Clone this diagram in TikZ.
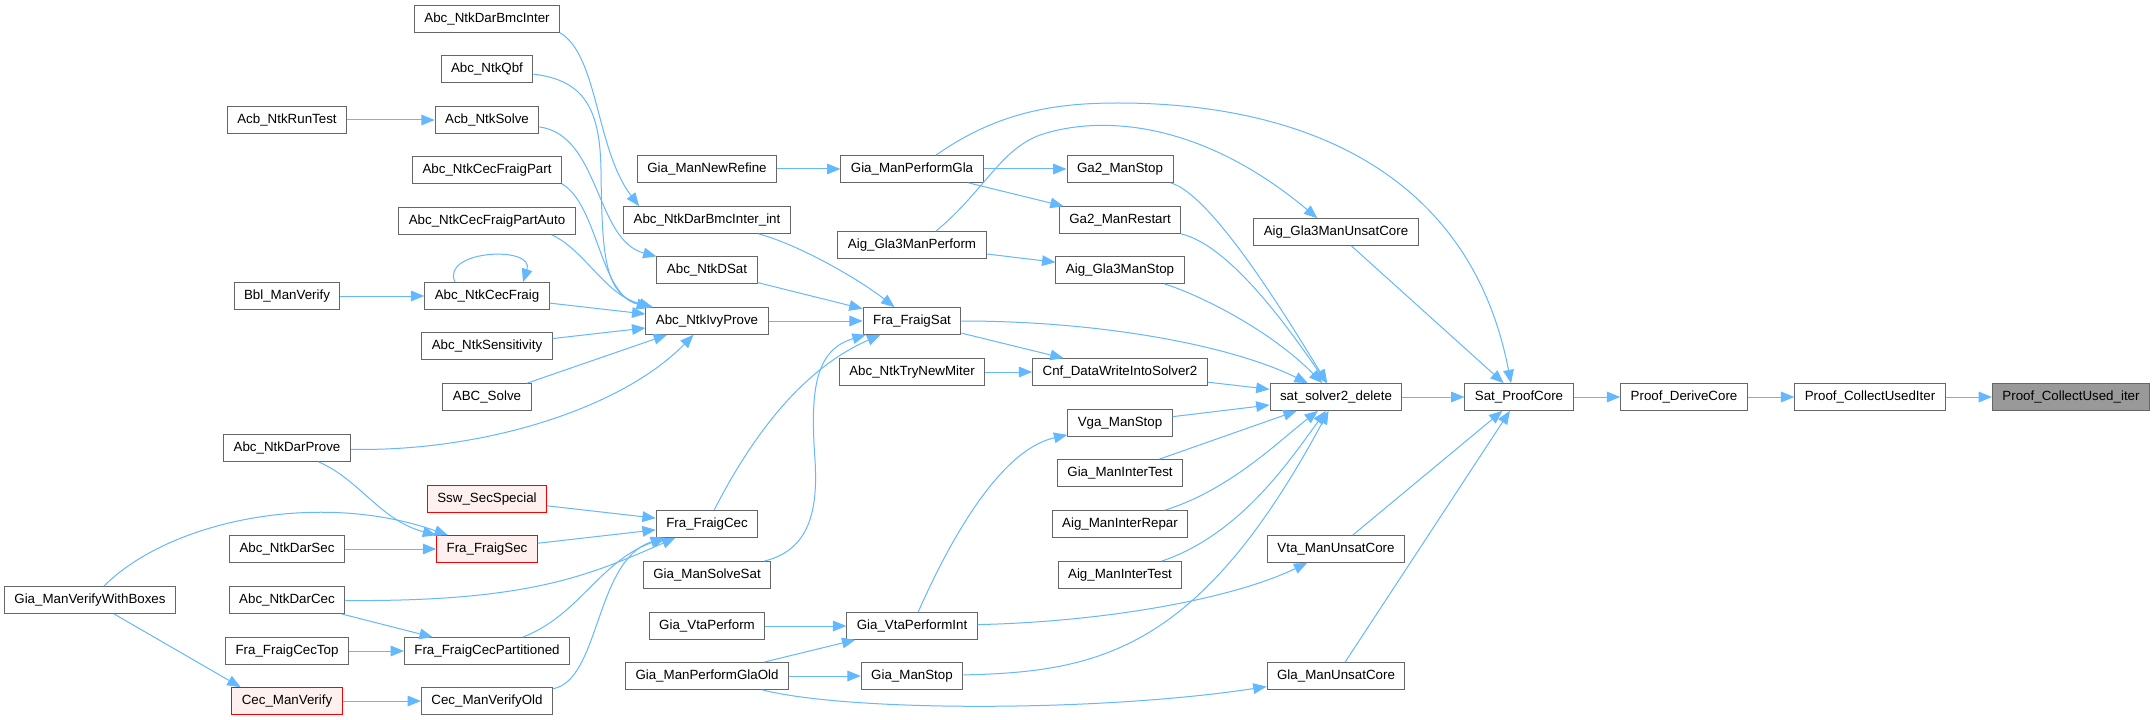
\documentclass[tikz,border=0pt]{standalone}
\usepackage{fontspec}
\setmainfont{Liberation Sans}
\usetikzlibrary{arrows.meta}
\definecolor{edgeblue}{HTML}{63B8FF}
\definecolor{boxgray}{HTML}{666666}
\definecolor{focusgray}{HTML}{999999}
\definecolor{redfill}{HTML}{FFF0F0}
\tikzset{
	fn/.style={draw=boxgray, fill=white, line width=0.75pt, inner xsep=7.5pt, inner ysep=0pt, minimum height=20pt, font=\fontsize{10}{12}\selectfont},
	fnred/.style={fn, draw=red, fill=redfill},
	fnfocus/.style={fn, fill=focusgray},
	call/.style={edgeblue, line width=0.75pt, -{Triangle[length=10pt,width=8pt]}},
}
\begin{document}
\begin{tikzpicture}[x=0.75pt, y=-0.75pt]
				\fill[white] (0,0) rectangle (2154,720);
				\useasboundingbox (0,0) rectangle (2154,720);
				\node[fn] (vwb) at (90,600) {Gia\_ManVerifyWithBoxes};
				\node[fn] (acbrt) at (287,120) {Acb\_NtkRunTest};
				\node[fn] (bbl) at (287,296) {Bbl\_ManVerify};
				\node[fn] (darp) at (287,448) {Abc\_NtkDarProve};
				\node[fn] (dsec) at (287,549) {Abc\_NtkDarSec};
				\node[fn] (darcec) at (287,600) {Abc\_NtkDarCec};
				\node[fn] (frct) at (287,651) {Fra\_FraigCecTop};
				\node[fnred] (cemv) at (287,701) {Cec\_ManVerify};
				\node[fn] (bmc) at (487,19) {Abc\_NtkDarBmcInter};
				\node[fn] (qbf) at (487,69) {Abc\_NtkQbf};
				\node[fn] (acbs) at (487,120) {Acb\_NtkSolve};
				\node[fn] (cecfp) at (487,170) {Abc\_NtkCecFraigPart};
				\node[fn] (cecfpa) at (487,221) {Abc\_NtkCecFraigPartAuto};
				\node[fn] (cecf) at (487,296) {Abc\_NtkCecFraig};
				\node[fn] (sens) at (487,346) {Abc\_NtkSensitivity};
				\node[fn] (abcs) at (487,397) {ABC\_Solve};
				\node[fnred] (ssw) at (487,499) {Ssw\_SecSpecial};
				\node[fnred] (frsec) at (487,549) {Fra\_FraigSec};
				\node[fn] (frcp) at (487,651) {Fra\_FraigCecPartitioned};
				\node[fn] (cevo) at (487,701) {Cec\_ManVerifyOld};
				\node[fn] (gnr) at (707,169) {Gia\_ManNewRefine};
				\node[fn] (bmci) at (707,220) {Abc\_NtkDarBmcInter\_int};
				\node[fn] (dsat) at (707,270) {Abc\_NtkDSat};
				\node[fn] (ivy) at (707,321) {Abc\_NtkIvyProve};
				\node[fn] (frc) at (707,524) {Fra\_FraigCec};
				\node[fn] (gss) at (707,575) {Gia\_ManSolveSat};
				\node[fn] (gvp) at (707,626) {Gia\_VtaPerform};
				\node[fn] (gpgo) at (707,676) {Gia\_ManPerformGlaOld};
				\node[fn] (gpg) at (912,169) {Gia\_ManPerformGla};
				\node[fn] (ag3p) at (912,245) {Aig\_Gla3ManPerform};
				\node[fn] (frs) at (912,321) {Fra\_FraigSat};
				\node[fn] (tnm) at (912,372) {Abc\_NtkTryNewMiter};
				\node[fn] (gvpi) at (912,626) {Gia\_VtaPerformInt};
				\node[fn] (gms) at (912,676) {Gia\_ManStop};
				\node[fn] (ga2s) at (1120,169) {Ga2\_ManStop};
				\node[fn] (ga2r) at (1120,220) {Ga2\_ManRestart};
				\node[fn] (ag3s) at (1120,270) {Aig\_Gla3ManStop};
				\node[fn] (cnf) at (1120,372) {Cnf\_DataWriteIntoSolver2};
				\node[fn] (vga) at (1120,423) {Vga\_ManStop};
				\node[fn] (gmit) at (1120,473) {Gia\_ManInterTest};
				\node[fn] (aimr) at (1120,524) {Aig\_ManInterRepar};
				\node[fn] (aimt) at (1120,575) {Aig\_ManInterTest};
				\node[fn] (ag3uc) at (1336,232) {Aig\_Gla3ManUnsatCore};
				\node[fn] (sat) at (1336,397) {sat\_solver2\_delete};
				\node[fn] (vtauc) at (1336,549) {Vta\_ManUnsatCore};
				\node[fn] (glauc) at (1336,676) {Gla\_ManUnsatCore};
				\node[fn] (spc) at (1519,397) {Sat\_ProofCore};
				\node[fn] (pdc) at (1684,397) {Proof\_DeriveCore};
				\node[fn] (pcui) at (1870,397) {Proof\_CollectUsedIter};
				\node[fnfocus] (pcu) at (2071,397) {Proof\_CollectUsed\_iter};
				\draw[call] (pcui) -- (pcu);
				\draw[call] (pdc) -- (pcui);
				\draw[call] (spc) -- (pdc);
				\draw[call] (sat) -- (spc);
				\draw[call] (ag3uc) -- (spc);
				\draw[call] (vtauc) -- (spc);
				\draw[call] (glauc) -- (spc);
				\draw[call] ([xshift=18pt]gpg.north) .. controls (1000,110) and (1060,103) .. (1118,103) .. controls (1300,103) and (1470,170) .. ([xshift=-6pt]spc.north);
				\draw[call] ([xshift=18pt]ag3p.north) .. controls (985,190) and (1000,150) .. (1040,135) .. controls (1100,115) and (1200,120) .. ([xshift=-14pt]ag3uc.north);
				\draw[call] (ga2s) .. controls (1215,195) and (1300,340) .. (sat);
				\draw[call] (ga2r) .. controls (1230,245) and (1290,330) .. (sat);
				\draw[call] (ag3s) .. controls (1200,295) and (1270,330) .. (sat);
				\draw[call] (frs) .. controls (1100,321) and (1230,345) .. (sat);
				\draw[call] (cnf) -- (sat);
				\draw[call] (vga) -- (sat);
				\draw[call] (gmit) -- (sat);
				\draw[call] (aimr) .. controls (1230,490) and (1280,440) .. (sat);
				\draw[call] (aimt) .. controls (1240,535) and (1290,460) .. (sat);
				\draw[call] (gms) .. controls (1100,672) and (1200,650) .. (sat);
				\draw[call] (gnr) -- (gpg);
				\draw[call] (gpg) -- (ga2s);
				\draw[call] (gpg) -- (ga2r);
				\draw[call] (ag3p) -- (ag3s);
				\draw[call] (bmci) .. controls (800,245) and (860,280) .. (frs);
				\draw[call] (dsat) -- (frs);
				\draw[call] (ivy) -- (frs);
				\draw[call] (frc) .. controls (750,440) and (800,370) .. (frs);
				\draw[call] (gss) .. controls (810,550) and (818,510) .. (815,460) .. controls (810,390) and (815,350) .. (frs);
				\draw[call] (frs) -- (cnf);
				\draw[call] (tnm) -- (cnf);
				\draw[call] (gvpi) .. controls (950,540) and (1000,450) .. (vga);
				\draw[call] (gvpi) .. controls (1100,622) and (1230,600) .. (vtauc);
				\draw[call] (gvp) -- (gvpi);
				\draw[call] (gpgo) -- (gvpi);
				\draw[call] (gpgo) -- (gms);
				\draw[call] (gpgo) .. controls (850,712) and (1100,712) .. (glauc);
				\draw[call] (bmc.south east) .. controls (598,55) and (596,150) .. ([xshift=12pt]bmci.north west);
				\draw[call] (qbf) .. controls (585,80) and (600,110) .. (601,170) .. controls (602,260) and (605,295) .. (ivy);
				\draw[call] (acbs) .. controls (600,135) and (595,240) .. (dsat);
				\draw[call] (cecfp.south east) .. controls (598,205) and (600,295) .. (ivy);
				\draw[call] ([xshift=-18pt]cecfpa.south east) .. controls (585,250) and (605,295) .. (ivy);
				\draw[call] (cecf) -- (ivy);
				\draw[call] (sens) -- (ivy);
				\draw[call] (abcs) -- (ivy);
				\draw[call] (darp) .. controls (480,452) and (620,410) .. (ivy);
				\draw[call] ([xshift=-24pt]cecf.north) .. controls (440,250) and (535,245) .. ([xshift=27pt]cecf.north);
				\draw[call] (acbrt) -- (acbs);
				\draw[call] (bbl) -- (cecf);
				\draw[call] (ssw) -- (frc);
				\draw[call] (frsec) -- (frc);
				\draw[call] (darcec) .. controls (530,602) and (590,575) .. (frc);
				\draw[call] (frcp) .. controls (580,615) and (600,560) .. (frc);
				\draw[call] (cevo) .. controls (600,680) and (595,560) .. (frc);
				\draw[call] (darp) .. controls (360,480) and (380,520) .. (frsec);
				\draw[call] (dsec) -- (frsec);
				\draw[call] (vwb) .. controls (170,520) and (320,490) .. (frsec);
				\draw[call] (vwb) -- ([xshift=7pt]cemv.north west);
				\draw[call] (darcec) -- (frcp);
				\draw[call] (frct) -- (frcp);
				\draw[call] (cemv) -- (cevo);
\end{tikzpicture}
\end{document}
